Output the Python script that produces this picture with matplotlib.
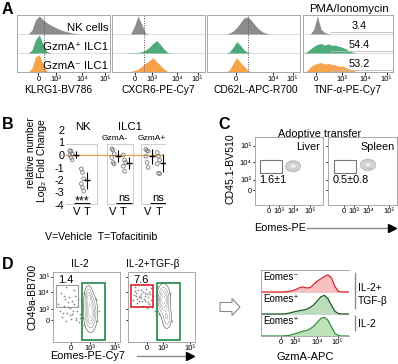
import numpy as np
import matplotlib
matplotlib.use('Agg')
import matplotlib.pyplot as plt
from matplotlib.patches import Rectangle, FancyArrow

plt.rcParams['font.family'] = ['Liberation Sans', 'DejaVu Sans']
plt.rcParams['axes.linewidth'] = 0.6

W, H = 398, 364

# ---------------- data ----------------
# display grid (biexponential channel scaled 0..1) shared by all histograms
hist_x = [0.00, 0.04, 0.08, 0.12, 0.16, 0.20, 0.24, 0.28, 0.32, 0.36, 0.40, 0.44, 0.48,
          0.52, 0.56, 0.60, 0.64, 0.68, 0.72, 0.76, 0.80, 0.84, 0.88, 0.92, 0.96, 1.00]

# panel A rows: NK cells, GzmA+ ILC1, GzmA- ILC1
a_rows = ['NK cells', 'GzmA\u207a ILC1', 'GzmA\u207b ILC1']
klrg1_nk = [0, 0, 0, 0, 0.2, 0.75, 0.95, 0.75, 0.6, 0.48, 0.38, 0.28, 0.2, 0.14, 0.09, 0.05, 0.02]
klrg1_pos = [0, 0, 0, 0, 0.15, 0.7, 0.95, 0.45, 0.08]
klrg1_neg = [0, 0, 0, 0, 0.2, 0.8, 0.9, 0.4, 0.05]
cxcr6_nk = [0, 0, 0, 0, 0, 0, 0.4, 0.95, 0.5, 0.05]
cxcr6_pos = [0, 0, 0, 0, 0, 0.02, 0.02, 0.03, 0.06, 0.15, 0.3, 0.5, 0.65, 0.45, 0.2, 0.03]
cxcr6_neg = [0, 0, 0, 0, 0, 0.03, 0.08, 0.15, 0.3, 0.45, 0.6, 0.75, 0.55, 0.35, 0.15, 0.03]
cd62l_nk = [0, 0, 0, 0, 0, 0, 0.05, 0.15, 0.35, 0.6, 0.85, 0.9, 0.7, 0.45, 0.25, 0.1, 0.04]
cd62l_pos = [0, 0, 0, 0, 0, 0, 0.05, 0.3, 0.6, 0.4, 0.15, 0.03]
cd62l_neg = [0, 0, 0, 0, 0, 0, 0.1, 0.45, 0.75, 0.5, 0.3, 0.08]
tnf_nk = [0, 0, 0, 0.25, 0.95, 0.25, 0.08, 0.03]
tnf_pos = [0, 0.05, 0.2, 0.35, 0.45, 0.5, 0.42, 0.48, 0.4, 0.42, 0.35, 0.3, 0.2, 0.1, 0.03]
tnf_neg = [0, 0.05, 0.25, 0.4, 0.45, 0.5, 0.42, 0.45, 0.4, 0.38, 0.3, 0.32, 0.22, 0.15, 0.08, 0.02]
tnf_pct = ['3.4', '54.4', '53.2']

a_xlabels = ['KLRG1-BV786', 'CXCR6-PE-Cy7', 'CD62L-APC-R700', 'TNF-\u03b1-PE-Cy7']
a_ticks = [[0.23, 0.42, 0.70, 0.95], [0.25, 0.43, 0.70, 0.92],
           [0.31, 0.71, 0.92], [0.14, 0.43, 0.69, 0.93]]
a_ticklabels = [['0', '10\u00b3', '10\u2074', '10\u2075'], ['0', '10\u00b3', '10\u2074', '10\u2075'],
                ['0', '10\u2074', '10\u2075'], ['0', '10\u00b3', '10\u2074', '10\u2075']]
a_dotted = [0.29, 0.34, 0.44, None]

# panel B: log2 fold change, V=vehicle, T=tofacitinib
nk_v = [0.35, 0.3, 0.1, 0.0, -0.2, -0.4]
nk_t = [-1.1, -1.4, -1.9, -2.3, -2.6, -2.9]
gzneg_v = [0.5, 0.4, 0.1, -0.2, -0.6, -0.7]
gzneg_t = [0.0, -0.4, -0.6, -0.9, -1.3]
gzpos_v = [0.45, 0.35, 0.3, -0.1, -0.6, -1.0]
gzpos_t = [0.2, -0.1, -0.4, -0.7, -1.45, -1.5]
b_sig = ['***', 'ns', 'ns']
b_yticks = [2, 1, 0, -1, -2, -3, -4]

# panel C: gates (x0, x1, y0, y1) and population centres, display units
c_gate = [0.08, 0.40, 0.47, 0.66]
c_pct = ['1.6\u00b11', '0.5\u00b10.8']
c_pop_x = [0.56, 0.58]
c_pop_y = [0.57, 0.59]
c_pop_sx = [0.05, 0.05]
c_pop_sy = [0.036, 0.036]
c_xticks = [[0.21, 0.35, 0.57, 0.81], [0.23, 0.38, 0.58, 0.88]]
c_yticks = [0.22, 0.37, 0.63, 0.87]
biex_labels = ['0', '10\u00b3', '10\u2074', '10\u2075']

# panel D: flow plots (CD49a vs Eomes)
d1_pop_x = [0.56, 0.53]
d1_pop_y = [0.42, 0.63]
d1_pop_sx = [0.045, 0.03]
d1_pop_sy = [0.12, 0.08]
d1_pop_w = [1.0, 0.6]
d2_pop_x = [0.53, 0.58]
d2_pop_y = [0.60, 0.35]
d2_pop_sx = [0.045, 0.035]
d2_pop_sy = [0.10, 0.08]
d2_pop_w = [1.0, 0.4]
d1_dots_x = [0.08, 0.12, 0.15, 0.18, 0.22, 0.25, 0.28, 0.30, 0.33, 0.35, 0.38, 0.40, 0.42, 0.20, 0.26,
             0.31, 0.36, 0.14, 0.24, 0.34, 0.39, 0.29, 0.43, 0.10, 0.17, 0.27, 0.37, 0.41, 0.32, 0.23,
             0.45, 0.47, 0.44, 0.66, 0.68, 0.64, 0.46, 0.21, 0.19, 0.16]
d1_dots_y = [0.55, 0.70, 0.42, 0.62, 0.50, 0.38, 0.58, 0.45, 0.66, 0.35, 0.52, 0.40, 0.60, 0.30, 0.48,
             0.55, 0.44, 0.36, 0.64, 0.32, 0.28, 0.40, 0.50, 0.45, 0.52, 0.33, 0.62, 0.34, 0.74, 0.57,
             0.35, 0.25, 0.55, 0.30, 0.45, 0.62, 0.70, 0.42, 0.78, 0.66]
d2_dots_x = [0.08, 0.12, 0.16, 0.20, 0.24, 0.28, 0.32, 0.10, 0.14, 0.18, 0.22, 0.26, 0.30, 0.34, 0.09, 0.15,
             0.21, 0.27, 0.33, 0.19, 0.25, 0.31, 0.13, 0.36, 0.40, 0.38, 0.29, 0.23, 0.17, 0.11, 0.42, 0.35,
             0.45, 0.47, 0.65, 0.62, 0.26, 0.20, 0.12, 0.30]
d2_dots_y = [0.60, 0.70, 0.65, 0.75, 0.62, 0.68, 0.72, 0.78, 0.56, 0.66, 0.71, 0.58, 0.64, 0.60, 0.67, 0.74,
             0.59, 0.76, 0.69, 0.63, 0.70, 0.55, 0.62, 0.50, 0.45, 0.66, 0.48, 0.52, 0.58, 0.73, 0.38, 0.77,
             0.62, 0.40, 0.30, 0.70, 0.66, 0.69, 0.66, 0.57]
d_gate_neg = [0.04, 0.38, 0.50, 0.82]
d_gate_pos = [0.44, 0.78, 0.03, 0.84]
d_pct = ['1.4', '7.6']
d_titles = ['IL-2', 'IL-2+TGF-\u03b2']
d_xticks = [[0.27, 0.55, 0.93], [0.28, 0.52, 0.93]]
d_xlabels = ['0', '10\u00b3', '10\u2075']
d_yticks = [0.31, 0.47, 0.71, 0.93]

# panel D histogram: GzmA-APC
d_rows = ['Eomes\u207b', 'Eomes\u207a', 'Eomes\u207a']
gzma_tgf_neg = [0, 0, 0, 0, 0, 0, 0, 0.01, 0.03, 0.06, 0.12, 0.2, 0.23, 0.18, 0.2, 0.35,
                0.5, 0.6, 0.7, 0.78, 0.65, 0.25, 0.03]
gzma_tgf_pos = [0, 0, 0, 0, 0, 0, 0, 0.01, 0.04, 0.08, 0.12, 0.15, 0.18, 0.22, 0.3, 0.42,
                0.6, 0.78, 0.85, 0.7, 0.4, 0.12, 0.02]
gzma_il2_pos = [0, 0, 0, 0, 0, 0, 0, 0.01, 0.03, 0.07, 0.12, 0.17, 0.22, 0.25, 0.33, 0.45,
                0.62, 0.8, 0.85, 0.72, 0.42, 0.12, 0.02]
dh_ticks = [0.23, 0.38, 0.64, 0.87]


def pad(v):
    return np.array(v + [0] * (len(hist_x) - len(v)))


fig = plt.figure(figsize=(W / 100, H / 100), dpi=100)


def px_axes(x0, y0, x1, y1):
    return fig.add_axes([x0 / W, 1 - y1 / H, (x1 - x0) / W, (y1 - y0) / H])


def box(ax, color='#a8a8a8'):
    for s in ax.spines.values():
        s.set_color(color)
        s.set_linewidth(0.7)


def density(comp_x, comp_y, sx, sy, w):
    gx, gy = np.meshgrid(np.linspace(0, 1, 200), np.linspace(0, 1, 200))
    z = np.zeros_like(gx)
    for cx, cy, a, b, k in zip(comp_x, comp_y, sx, sy, w):
        z += k * np.exp(-((gx - cx) ** 2 / (2 * a ** 2) + (gy - cy) ** 2 / (2 * b ** 2)))
    return gx, gy, z


# ---------------- A ----------------
a_colors = ['#8c8c8c', '#4dab7a', '#f7a34c']
a_data = [[klrg1_nk, klrg1_pos, klrg1_neg], [cxcr6_nk, cxcr6_pos, cxcr6_neg],
          [cd62l_nk, cd62l_pos, cd62l_neg], [tnf_nk, tnf_pos, tnf_neg]]
a_x = [(17, 110), (112, 205), (207, 300), (303, 393)]
for k, (x0, x1) in enumerate(a_x):
    ax = px_axes(x0, 15, x1, 72)
    for i, h in enumerate(a_data[k]):
        base = 2 - i
        ax.fill_between(hist_x, base, base + pad(h), color=a_colors[i], lw=0)
    ax.axhline(1, color='#d8d8d8', lw=0.6, zorder=0)
    ax.axhline(2, color='#d8d8d8', lw=0.6, zorder=0)
    if a_dotted[k] is not None:
        ax.axvline(a_dotted[k], color='#555555', lw=0.7, ls=(0, (1, 1.5)))
    ax.set_xlim(0, 1)
    ax.set_ylim(0, 3)
    ax.set_yticks([])
    ax.set_xticks(a_ticks[k])
    ax.set_xticklabels(a_ticklabels[k], fontsize=5.5)
    ax.tick_params(axis='x', length=2, width=0.6, pad=1)
    box(ax)
    if k == 0:
        for i, name in enumerate(a_rows):
            ax.text(0.98, 2 - i + 0.3, name, ha='right', va='center', fontsize=8.2)
    if k == 3:
        for i, p in enumerate(tnf_pct):
            ax.hlines(2 - i + 0.1, 0.3, 1.0, color='#bbbbbb', lw=0.6)
            ax.text(0.62, 2 - i + 0.42, p, ha='center', va='center', fontsize=7.8)

# ---------------- B ----------------
axb = px_axes(66, 125, 166, 206)
groups = [(nk_v, nk_t), (gzneg_v, gzneg_t), (gzpos_v, gzpos_t)]
v_pos = [0.0, 4.2, 7.6]
for g, (vv, tt) in enumerate(groups):
    x0 = v_pos[g]
    axb.add_patch(Rectangle((x0 - 0.6, -3.92), 3.2 if g == 0 else 2.6, 4.8,
                            fill=False, ec='#cccccc', lw=0.7))
    for j, vals in enumerate([vv, tt]):
        xc = x0 + 1.15 * j
        jit = (np.arange(len(vals)) % 3 - 1) * 0.12
        axb.scatter(xc + jit, vals, s=7, facecolors='none', edgecolors='#7a7a7a', lw=0.6, zorder=3)
        m = np.mean(vals)
        sd = np.std(vals, ddof=1)
        xm = xc + 0.45
        axb.vlines(xm, m - sd, m + sd, color='black', lw=0.8, zorder=4)
        axb.hlines(m, xm - 0.3, xm + 0.3, color='black', lw=1.0, zorder=4)
    axb.hlines(-3.8, x0 + 0.3, x0 + 1.9, color='black', lw=0.7)
    axb.text(x0 + 1.1, -3.72 if g == 0 else -3.45, b_sig[g], ha='center', va='center',
             fontsize=8 if g else 9)
axb.hlines(0, -0.6, 9.2, color='#f0a050', lw=0.9, zorder=2)
axb.set_xlim(-0.5, 9.5)
axb.set_ylim(-4.08, 2.4)
axb.set_yticks(b_yticks)
axb.set_yticklabels([str(t) for t in b_yticks], fontsize=7.8)
axb.set_xticks([0.6, 1.6, 4.2, 5.2, 7.7, 8.8])
axb.set_xticklabels(['V', 'T'] * 3, fontsize=8)
axb.tick_params(length=0, pad=1)
for s in axb.spines.values():
    s.set_visible(False)

# ---------------- C ----------------
for k, (x0, x1) in enumerate([(255, 323), (328, 397)]):
    ax = px_axes(x0, 137, x1, 205)
    gx, gy, z = density([c_pop_x[k]], [c_pop_y[k]], [c_pop_sx[k]], [c_pop_sy[k]], [1.0])
    ax.contour(gx, gy, z, levels=[0.1, 0.3, 0.55, 0.8],
               colors=['#b8b8b8', '#c4c4c4', '#d0d0d0', '#dddddd'], linewidths=1.0)
    gx0, gx1, gy0, gy1 = c_gate
    ax.add_patch(Rectangle((gx0, gy0), gx1 - gx0, gy1 - gy0, fill=False, ec='#777777', lw=0.8))
    ax.text(gx0 - 0.02, 0.37, c_pct[k], ha='left', va='center', fontsize=7.8)
    ax.text(0.96, 0.85, ['Liver', 'Spleen'][k], ha='right', va='center', fontsize=7.8)
    ax.set_xlim(0, 1)
    ax.set_ylim(0, 1)
    ax.set_xticks(c_xticks[k])
    ax.set_xticklabels(biex_labels, fontsize=5.5)
    ax.set_yticks(c_yticks)
    ax.set_yticklabels(biex_labels if k == 0 else [], fontsize=5.5)
    ax.tick_params(length=1.5, width=0.6, pad=1)
    box(ax)

# ---------------- D flow ----------------
d_pops = [(d1_pop_x, d1_pop_y, d1_pop_sx, d1_pop_sy, d1_pop_w),
          (d2_pop_x, d2_pop_y, d2_pop_sx, d2_pop_sy, d2_pop_w)]
d_dots = [(d1_dots_x, d1_dots_y), (d2_dots_x, d2_dots_y)]
for k, (x0, x1) in enumerate([(53, 120), (128, 195)]):
    ax = px_axes(x0, 272, x1, 342)
    ax.scatter(d_dots[k][0], d_dots[k][1], s=1.6, color='#8a8a8a', lw=0)
    gx, gy, z = density(*d_pops[k])
    ax.contour(gx, gy, z, levels=[0.06, 0.2, 0.4, 0.6, 0.85],
               colors=['#606060', '#9a9a9a', '#a8a8a8', '#b4b4b4', '#c0c0c0'], linewidths=0.45)
    g0 = d_gate_neg
    ax.add_patch(Rectangle((g0[0], g0[2]), g0[1] - g0[0], g0[3] - g0[2], fill=False,
                           ec='#999999' if k == 0 else '#e0202a', lw=0.8 if k == 0 else 1.2))
    g1 = d_gate_pos
    ax.add_patch(Rectangle((g1[0], g1[2]), g1[1] - g1[0], g1[3] - g1[2], fill=False,
                           ec='#1e8a4a', lw=1.2))
    ax.text(0.08, 0.89, d_pct[k], ha='left', va='center', fontsize=8)
    ax.set_xlim(0, 1)
    ax.set_ylim(0, 1)
    ax.set_xticks(d_xticks[k])
    ax.set_xticklabels(d_xlabels, fontsize=5.5)
    ax.set_yticks(d_yticks)
    ax.set_yticklabels(biex_labels if k == 0 else [], fontsize=5.5)
    ax.tick_params(length=1.5, width=0.6, pad=1)
    box(ax)

# ---------------- D histogram ----------------
axh = px_axes(261, 270, 349, 336)
d_curves = [gzma_tgf_neg, gzma_tgf_pos, gzma_il2_pos]
d_line = ['#e0202a', '#1f5a2c', '#2f8f3f']
d_fill = ['#f8c0be', '#bcdcbc', '#bfe2b8']
for i, h in enumerate(d_curves):
    base = 2 - i
    axh.fill_between(hist_x, base, base + pad(h), color=d_fill[i], lw=0)
    axh.plot(hist_x, base + pad(h), color=d_line[i], lw=0.9)
    axh.text(0.02, base + 0.66, d_rows[i], ha='left', va='center', fontsize=7)
axh.axhline(1, color='#cccccc', lw=0.6, zorder=0)
axh.axhline(2, color='#cccccc', lw=0.6, zorder=0)
axh.set_xlim(0, 1)
axh.set_ylim(0, 3)
axh.set_yticks([])
axh.set_xticks(dh_ticks)
axh.set_xticklabels(biex_labels, fontsize=5.5)
axh.tick_params(axis='x', length=1.5, width=0.6, pad=1)
box(axh)
axh.spines['right'].set_visible(False)

# ---------------- labels / annotations ----------------
ov = fig.add_axes([0, 0, 1, 1])
ov.set_xlim(0, W)
ov.set_ylim(H, 0)
ov.axis('off')
ov.patch.set_alpha(0)

for lab, (x, y) in zip('ABCD', [(2, 2), (2, 117), (218, 117), (2, 257)]):
    ov.text(x, y, lab, fontsize=11.5, fontweight='bold', ha='left', va='top')

for lab, x in zip(a_xlabels, [58, 158, 256, 348]):
    ov.text(x, 90, lab, fontsize=7.4, ha='center', va='center')
ov.text(349, 9, 'PMA/Ionomycin', fontsize=8.2, ha='center', va='center')

ov.text(83, 127, 'NK', fontsize=8.2, ha='center', va='center')
ov.text(130, 127, 'ILC1', fontsize=8.2, ha='center', va='center')
ov.text(115, 138, 'GzmA-', fontsize=6, ha='center', va='center')
ov.text(152, 138, 'GzmA+', fontsize=6, ha='center', va='center')
ov.text(31, 153, 'relative number', fontsize=7.4, rotation=90, ha='center', va='center')
ov.text(42, 161, 'Log\u2082 Fold Change', fontsize=7.4, rotation=90, ha='center', va='center')
ov.text(101, 237, 'V=Vehicle  T=Tofacitinib', fontsize=7.6, ha='center', va='center')

ov.text(320, 134, 'Adoptive transfer', fontsize=7.8, ha='center', va='center')
ov.text(230, 169, 'CD45.1-BV510', fontsize=7.6, rotation=90, ha='center', va='center')
ov.text(280, 228, 'Eomes-PE', fontsize=7.8, ha='center', va='center')
ov.plot([307, 390], [228, 228], color='#8a8a8a', lw=1.0)
ov.plot(392, 228, marker='>', color='black', ms=6)

ov.text(80, 264, d_titles[0], fontsize=7.4, ha='center', va='center')
ov.text(153, 264, d_titles[1], fontsize=7.4, ha='center', va='center')
ov.text(32, 297, 'CD49a-BB700', fontsize=7.4, rotation=90, ha='center', va='center')
ov.text(88, 356, 'Eomes-PE-Cy7', fontsize=7.8, ha='center', va='center')
ov.plot([137, 187], [356, 356], color='#8a8a8a', lw=1.0)
ov.plot(190, 356, marker='>', color='black', ms=6)

ov.add_patch(FancyArrow(220, 307, 20, 0, width=9, head_width=17, head_length=8,
                        length_includes_head=True, fc='white', ec='#8a8a8a', lw=0.8))
ov.text(305, 357, 'GzmA-APC', fontsize=8, ha='center', va='center')
ov.plot([355, 355], [273, 308], color='#8a8a8a', lw=1.0)
ov.plot([355, 355], [316, 330], color='#8a8a8a', lw=1.0)
ov.text(358, 288, 'IL-2+', fontsize=7.4, ha='left', va='center')
ov.text(358, 301, 'TGF-\u03b2', fontsize=7.4, ha='left', va='center')
ov.text(358, 324, 'IL-2', fontsize=7.4, ha='left', va='center')

fig.savefig('out.png', dpi=100)
